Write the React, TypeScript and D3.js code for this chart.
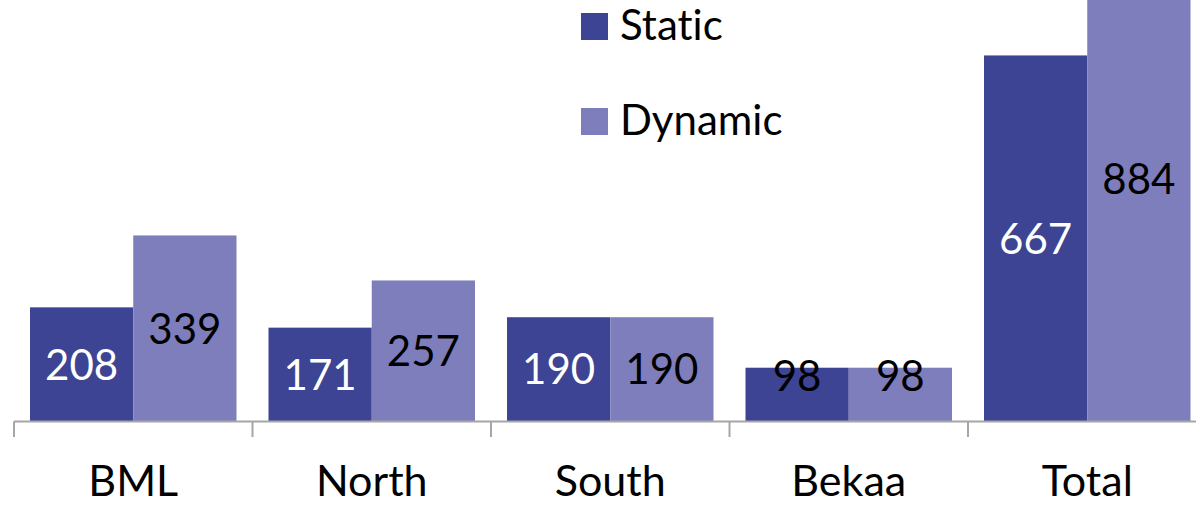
import React from 'react';
import * as d3 from 'd3';

const categories = ['BML', 'North', 'South', 'Bekaa', 'Total'];
const seriesNames = ['Static', 'Dynamic'];
const staticValues = [208, 171, 190, 98, 667];
const dynamicValues = [339, 257, 190, 98, 884];

const colors = ['#3C4493', '#7E7EBC'];
const W = 1196;
const H = 505;
const FONT = 'Lato, "Open Sans", sans-serif';

const App = () => {
    const baseY = 421.5;

    //  category bands, the last one runs past the right edge
    const x = d3.scaleBand<string>()
        .domain(categories)
        .range([14, 14 + 238.5 * categories.length]);

    const xSub = d3.scaleBand<string>()
        .domain(seriesNames)
        .range([16, x.bandwidth() - 16]);

    const y = d3.scaleLinear()
        .domain([0, 768])
        .range([baseY, 0]);

    const rows = categories.map((c, i) => ({
        category: c,
        values: [staticValues[i], dynamicValues[i]],
    }));

    return (
        <div style={{ position: 'fixed', left: 0, top: 0, width: W, height: H, background: '#fff' }}>
            <svg width={W} height={H} style={{ display: 'block', fontVariantLigatures: 'none' }} fontFamily={FONT}>
                {rows.map(row => (
                    <g key={row.category} transform={`translate(${x(row.category)},0)`}>
                        {row.values.map((v, j) => {
                            const top = y(v);
                            const h = baseY - top;
                            const bx = xSub(seriesNames[j]) as number;
                            //  small bars get their label pushed up near the top, like Excel does
                            const ly = h < 70 ? top + 8 : top + h / 2;
                            const fill = j === 0 && h >= 70 ? '#fff' : '#000';
                            return (
                                <g key={j}>
                                    <rect x={bx} y={top} width={xSub.bandwidth()} height={h} fill={colors[j]} />
                                    <text x={bx + xSub.bandwidth() / 2} y={ly} dy="0.36em"
                                        textAnchor="middle" fontSize={42} fill={fill}>{v}</text>
                                </g>
                            );
                        })}
                        <text x={x.bandwidth() / 2} y={496} textAnchor="middle" fontSize={43} fill="#000">
                            {row.category}
                        </text>
                    </g>
                ))}

                {/* x axis */}
                <line x1={14} x2={W} y1={baseY} y2={baseY} stroke="#A6A6A6" strokeWidth={2} />
                {categories.map(c => (
                    <line key={c} x1={x(c)} x2={x(c)} y1={baseY} y2={437} stroke="#A6A6A6" strokeWidth={2} />
                ))}

                {/* legend */}
                {seriesNames.map((s, i) => (
                    <g key={s} transform={`translate(581,${13 + i * 95})`}>
                        <rect width={27} height={27} fill={colors[i]} />
                        <text x={39} y={27} fontSize={42} fill="#000">{s}</text>
                    </g>
                ))}
            </svg>
        </div>
    );
};

export default App;
